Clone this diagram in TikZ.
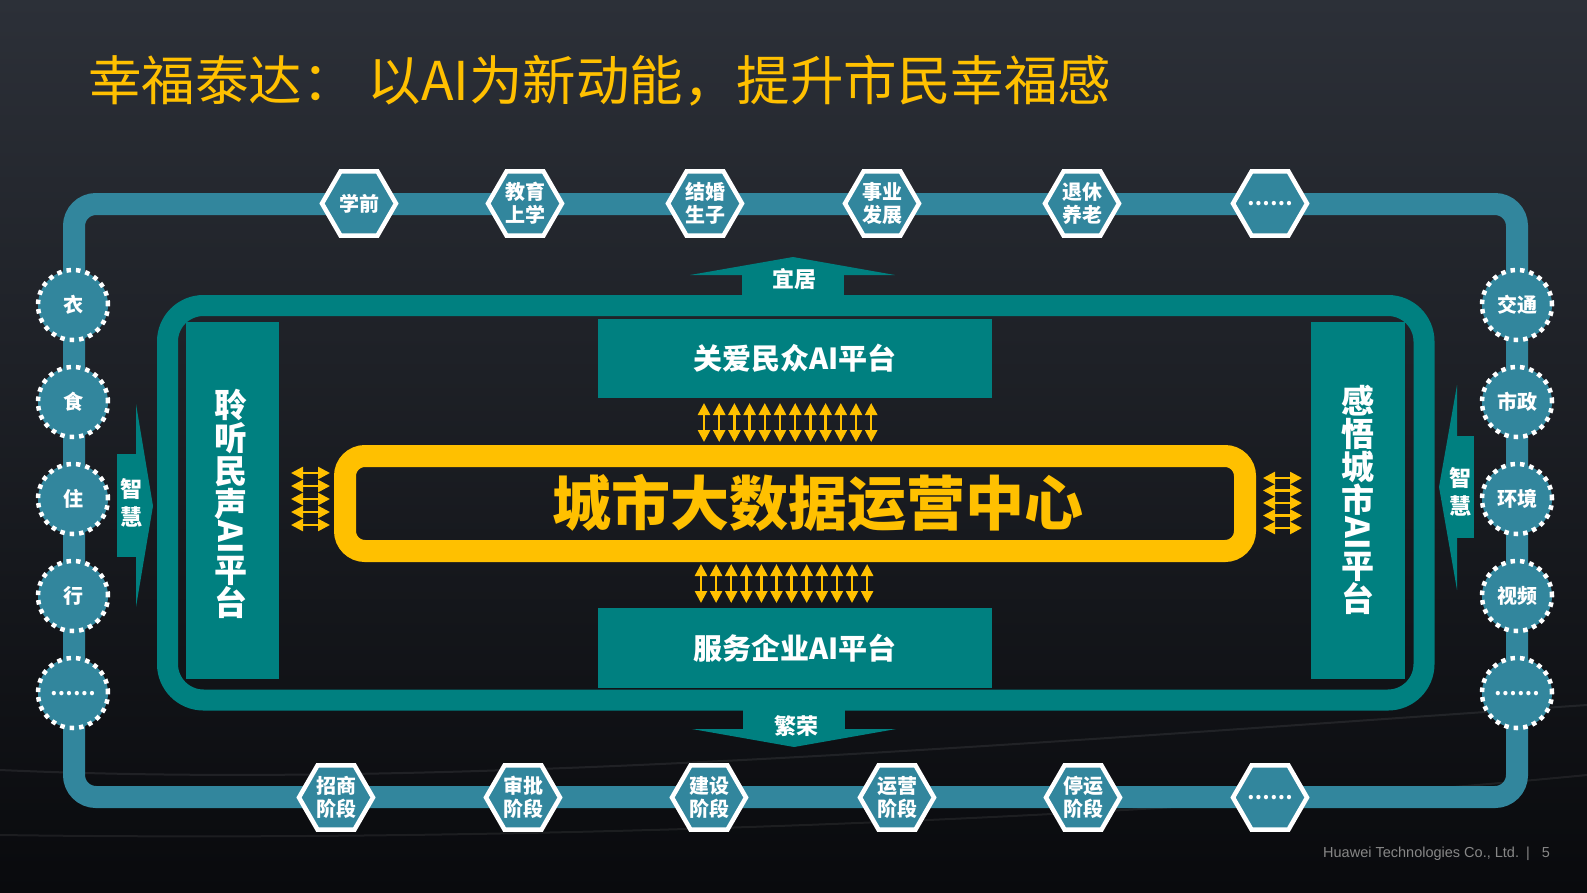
\documentclass[tikz,border=0pt]{standalone}
\usepackage{fontspec}
\setmainfont{Noto Sans CJK SC}
\newfontfamily\footfont{Liberation Sans}
\usetikzlibrary{positioning,shapes.geometric,arrows.meta}

\definecolor{bgtop}{RGB}{44,48,56}
\definecolor{bgbot}{RGB}{9,10,13}
\definecolor{loopblue}{RGB}{50,134,157}
\definecolor{tealbox}{RGB}{0,128,128}
\definecolor{goldline}{RGB}{255,192,0}
\definecolor{footgray}{RGB}{135,135,135}

\newcommand{\lowdots}{\raisebox{-5pt}{……}}

\tikzset{
  hexnode/.style={regular polygon, regular polygon sides=6, minimum size=74pt, inner sep=0pt,
    fill=loopblue, draw=white, line width=4.5pt, text=white, align=center,
    font=\fontsize{20}{23}\selectfont\bfseries},
  dotnode/.style={circle, minimum size=70pt, inner sep=0pt, fill=loopblue, draw=white,
    line width=4.5pt, dash pattern=on 4.5pt off 5pt, text=white,
    font=\fontsize{20}{23}\selectfont\bfseries},
  platbox/.style={fill=tealbox, inner sep=0pt, text=white, font=\fontsize{29}{30}\selectfont\bfseries},
  sidetext/.style={text=white, align=center, font=\fontsize{33}{33}\selectfont\bfseries},
  flowtext/.style={text=white, align=center, inner sep=0pt, font=\fontsize{22}{28}\selectfont\bfseries},
  dblarrow/.style={goldline, line width=2.5pt, {Triangle[width=12pt,length=12pt]}-{Triangle[width=12pt,length=12pt]}}
}

\begin{document}
\begin{tikzpicture}[x=1pt, y=-1pt]
  \useasboundingbox (0,0) rectangle (1587,892);
  \shade[top color=bgtop, bottom color=bgbot] (0,0) rectangle (1587,892);
  % faint streaks in the background
  \draw[white, opacity=0.08, line width=2pt] (0,770) .. controls (450,790) and (1000,745) .. (1587,705);
  \draw[white, opacity=0.07, line width=2pt] (0,835) .. controls (500,842) and (1100,822) .. (1587,775);

  \node[anchor=west, text=goldline, inner sep=0pt, font=\fontsize{53.5}{54}\selectfont] (title) at (88,81)
    {幸福泰达： 以AI为新动能，提升市民幸福感};

  % the two loops
  \draw[loopblue, line width=22pt, rounded corners=22pt] (74,204) rectangle (1517,797);
  \draw[tealbox, line width=21pt, rounded corners=36pt] (167.5,305.5) rectangle (1424,700);

  % life stages
  \node[hexnode] (h1) at (359,203.5) {学前};
  \node[hexnode] (h2) at (525,203.5) {教育\\上学};
  \node[hexnode] (h3) at (705,203.5) {结婚\\生子};
  \node[hexnode] (h4) at (882,203.5) {事业\\发展};
  \node[hexnode] (h5) at (1082,203.5) {退休\\养老};
  \node[hexnode] (h6) at (1270,203.5) {\lowdots};

  % enterprise stages
  \node[hexnode] (e1) at (336,797.5) {招商\\阶段};
  \node[hexnode] (e2) at (523,797.5) {审批\\阶段};
  \node[hexnode] (e3) at (709,797.5) {建设\\阶段};
  \node[hexnode] (e4) at (897,797.5) {运营\\阶段};
  \node[hexnode] (e5) at (1083,797.5) {停运\\阶段};
  \node[hexnode] (e6) at (1270,797.5) {\lowdots};

  % daily life
  \begin{scope}[node distance=22.5pt]
    \node[dotnode] (yi) at (73,305) {衣};
    \node[dotnode, below=of yi] (shi) {食};
    \node[dotnode, below=of shi] (zhu) {住};
    \node[dotnode, below=of zhu] (xing) {行};
    \node[dotnode, below=of xing] (more) {\lowdots};

    \node[dotnode] (traffic) at (1517,305) {交通};
    \node[dotnode, below=of traffic] (civic) {市政};
    \node[dotnode, below=of civic] (env) {环境};
    \node[dotnode, below=of env] (video) {视频};
    \node[dotnode, below=of video] (moreb) {\lowdots};
  \end{scope}

  % wide arrows
  \fill[tealbox] (690,275) -- (793,257) -- (895,275) -- cycle;
  \fill[tealbox] (742,274) rectangle (844,296);
  \node[flowtext] (livable) at (794,279) {宜居};
  \fill[tealbox] (743,709) rectangle (845,730);
  \fill[tealbox] (692,729) -- (794,747) -- (896,729) -- cycle;
  \node[flowtext] (prosper) at (796,726) {繁荣};
  \fill[tealbox] (117,454) rectangle (137,557);
  \fill[tealbox] (136,404) -- (153,506) -- (136,607) -- cycle;
  \node[flowtext] (smartl) at (131,503) {智\\慧};
  \fill[tealbox] (1456,436) rectangle (1474,538);
  \fill[tealbox] (1457,385) -- (1439,487) -- (1457,590) -- cycle;
  \node[flowtext] (smartr) at (1460,492) {智\\慧};

  % platforms
  \node[platbox, minimum width=394pt, minimum height=79pt] (care) at (795,358.5) {关爱民众AI平台};
  \node[platbox, minimum width=394pt, minimum height=80pt] (serve) at (795,648) {服务企业AI平台};
  \node[platbox, minimum width=93pt, minimum height=357pt] (listen) at (232.5,500.5) {};
  \node[sidetext] (listentxt) at (231,504) {聆\\听\\民\\声\\\rotatebox[origin=c]{-90}{AI}\\平\\台};
  \node[platbox, minimum width=94pt, minimum height=357pt] (sense) at (1358,500.5) {};
  \node[sidetext] (sensetxt) at (1358,500) {感\\悟\\城\\市\\\rotatebox[origin=c]{-90}{AI}\\平\\台};

  % data hub
  \node[draw=goldline, line width=22pt, rounded corners=20pt, minimum width=900pt,
    minimum height=95pt, inner sep=0pt] (hub) at (795,503.5) {};
  \node[text=goldline, font=\fontsize{59}{59}\selectfont\bfseries] (hubtxt) at (818,503) {城市大数据运营中心};

  % exchange arrows
  \foreach \i in {0,...,11} \draw[dblarrow] (704+15.2*\i,403) -- (704+15.2*\i,442);
  \foreach \i in {0,...,11} \draw[dblarrow] (701+15.1*\i,564) -- (701+15.1*\i,603);
  \foreach \i in {0,...,4} \draw[dblarrow] (291,473+13*\i) -- (330,473+13*\i);
  \foreach \i in {0,...,4} \draw[dblarrow] (1263,478+12.5*\i) -- (1302,478+12.5*\i);

  \node[anchor=west, text=footgray, inner sep=0pt, font=\footfont\fontsize{14.5}{15}\selectfont] (credit) at (1323,854)
    {Huawei Technologies Co., Ltd.\hspace{7pt}|\hspace{12pt}5};
\end{tikzpicture}
\end{document}
